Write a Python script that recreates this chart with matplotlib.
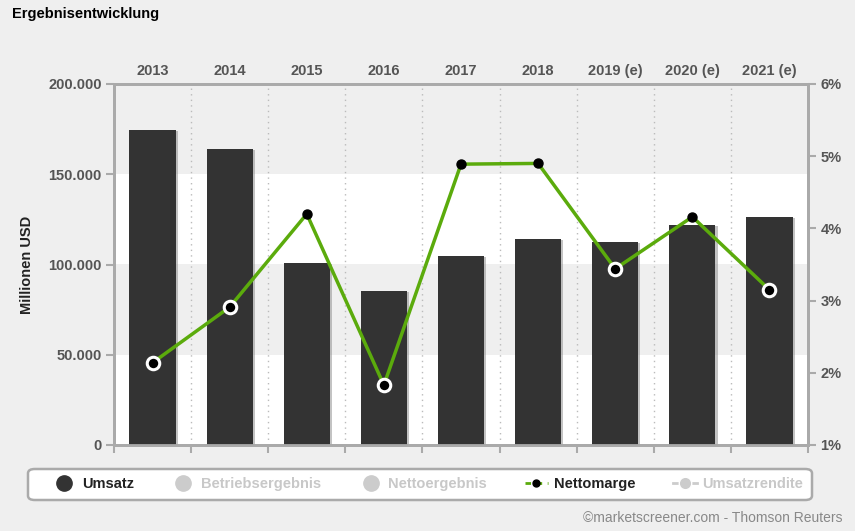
import matplotlib
matplotlib.use("Agg")
import matplotlib.pyplot as plt
import matplotlib.patheffects as pe
from matplotlib.lines import Line2D
from matplotlib.patches import FancyBboxPatch
from matplotlib.ticker import FuncFormatter

years = ["2013", "2014", "2015", "2016", "2017", "2018", "2019 (e)", "2020 (e)", "2021 (e)"]
umsatz = [174500, 164000, 101000, 85300, 104700, 114100, 112500, 121900, 126300]
nettomarge = [2.14, 2.91, 4.20, 1.83, 4.89, 4.90, 3.44, 4.16, 3.15]

legend_names = ["Umsatz", "Betriebsergebnis", "Nettoergebnis", "Nettomarge", "Umsatzrendite"]

plt.rcParams["font.family"] = ["Liberation Sans", "DejaVu Sans"]
bg = "#efefef"
grey = "#aaaaaa"
label_grey = "#555555"

fig = plt.figure(figsize=(8.55, 5.31), dpi=100, facecolor=bg)
ax = fig.add_axes([114 / 855, 1 - 445 / 531, 694 / 855, 361 / 531])
ax.set_facecolor(bg)

# alternating bands
for lo, hi, c in [(0, 50000, "white"), (50000, 100000, bg), (100000, 150000, "white"), (150000, 200000, bg)]:
    ax.axhspan(lo, hi, color=c, zorder=0, lw=0)

x = list(range(len(years)))
bars = ax.bar(x, umsatz, width=0.6, color="#333333", zorder=3)
for b in bars:
    b.set_path_effects([pe.SimplePatchShadow(offset=(1.5, -1), shadow_rgbFace="#888888", alpha=0.5), pe.Normal()])

for i in range(len(years) - 1):
    ax.axvline(i + 0.5, color="#bbbbbb", ls=(0, (1, 3)), lw=1, zorder=1)

ax.set_xlim(-0.5, len(years) - 0.5)
ax.set_ylim(0, 200000)
ax.set_yticks([0, 50000, 100000, 150000, 200000])
ax.yaxis.set_major_formatter(FuncFormatter(lambda v, p: f"{int(v):,}".replace(",", ".")))
ax.set_xticks(x)
ax.set_xticklabels(years)
ax.set_xticks([i + 0.5 for i in range(-1, len(years))], minor=True)
ax.tick_params(axis="x", which="major", top=True, bottom=False, length=0, labeltop=True,
               labelbottom=False, pad=4, labelsize=10.5, labelcolor=label_grey)
ax.tick_params(axis="x", which="minor", top=False, bottom=True, length=6, width=1.5, color=grey)
ax.tick_params(axis="y", length=6, width=1.5, color=grey, labelsize=10.5, labelcolor=label_grey, pad=3)
for t in ax.get_xticklabels() + ax.get_yticklabels():
    t.set_fontweight("bold")
for s in ax.spines.values():
    s.set_color(grey)
    s.set_linewidth(2)
ax.set_ylabel("Millionen USD", fontsize=10.5, fontweight="bold", color="#222222", labelpad=10)

ax2 = ax.twinx()
ax2.set_ylim(1, 6)
ax2.set_yticks([1, 2, 3, 4, 5, 6])
ax2.yaxis.set_major_formatter(FuncFormatter(lambda v, p: f"{int(v)}%"))
ax2.tick_params(axis="y", length=6, width=1.5, color=grey, labelsize=10.5, labelcolor=label_grey, pad=3)
for t in ax2.get_yticklabels():
    t.set_fontweight("bold")
for s in ax2.spines.values():
    s.set_color(grey)
    s.set_linewidth(2)

ax2.plot(x, nettomarge, color="#5bab0c", lw=2.5, zorder=4)
for xi, m, u in zip(x, nettomarge, umsatz):
    # points lying on a dark bar get a white ring
    on_bar = (m - 1) / 5 * 200000 < u
    if on_bar:
        ax2.plot(xi, m, "o", ms=9, mfc="black", mec="white", mew=2.2, zorder=5)
    else:
        ax2.plot(xi, m, "o", ms=6.5, mfc="black", mec="black", zorder=5)

fig.text(12 / 855, 1 - 14 / 531, "Ergebnisentwicklung", fontsize=10.5, fontweight="bold",
         color="black", va="center")

# legend
frame = FancyBboxPatch((28 / 855, 1 - 500 / 531), 784 / 855, 31 / 531, transform=fig.transFigure,
                       boxstyle="round,pad=0,rounding_size=0.008", fc="white", ec=grey, lw=1.8)
fig.patches.append(frame)
handles = [
    Line2D([], [], ls="none", marker="o", ms=11, mfc="#333333", mec="#333333"),
    Line2D([], [], ls="none", marker="o", ms=11, mfc="#cccccc", mec="#cccccc"),
    Line2D([], [], ls="none", marker="o", ms=11, mfc="#cccccc", mec="#cccccc"),
    Line2D([], [], color="#5bab0c", ls=(0, (2, 2)), lw=2, marker="o", ms=5, mfc="black", mec="black"),
    Line2D([], [], color="#cccccc", lw=2, marker="o", ms=9, mfc="#cccccc", mec="white"),
]
leg = fig.legend(handles, legend_names, loc="center", bbox_to_anchor=(428 / 855, 1 - 484 / 531),
                 ncol=5, frameon=False, handlelength=1.6, handletextpad=0.4, columnspacing=2.6,
                 prop={"weight": "bold", "size": 10.5})
for t, c in zip(leg.get_texts(), ["#222222", "#c8c8c8", "#c8c8c8", "#222222", "#c8c8c8"]):
    t.set_color(c)

fig.text(842 / 855, 1 - 518 / 531, "\u00a9marketscreener.com - Thomson Reuters", fontsize=10,
         color="#888888", ha="right", va="center")

fig.savefig("out.png", dpi=100, facecolor=bg)
